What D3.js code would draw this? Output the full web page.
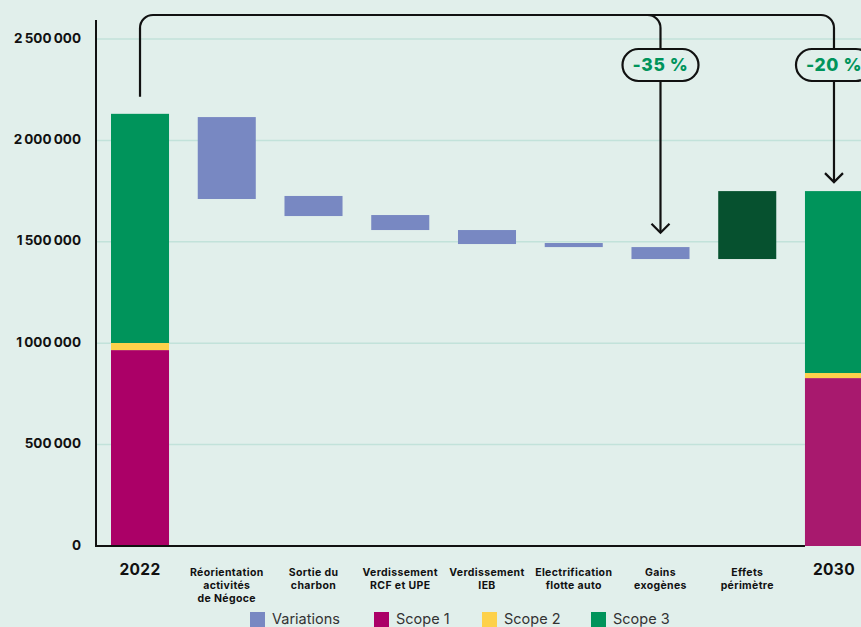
<!DOCTYPE html>
<html>
<head>
<meta charset="utf-8">
<script src="https://cdn.jsdelivr.net/npm/d3@7/dist/d3.min.js"></script>
<style>
  html, body { margin: 0; padding: 0; background: #e1efeb; overflow: hidden; }
  svg { display: block; }
</style>
</head>
<body>
<svg id="chart" width="861" height="627"></svg>
<script>
// --- Data (tCO2e) ---
const categories = ['2022', 'Réorientation activités de Négoce', 'Sortie du charbon',
  'Verdissement RCF et UPE', 'Verdissement IEB', 'Electrification flotte auto',
  'Gains exogènes', 'Effets périmètre', '2030'];
const categoryLines = [['2022'], ['Réorientation', 'activités', 'de Négoce'], ['Sortie du', 'charbon'],
  ['Verdissement', 'RCF et UPE'], ['Verdissement', 'IEB'], ['Electrification', 'flotte auto'],
  ['Gains', 'exogènes'], ['Effets', 'périmètre'], ['2030']];

// stacked totals for the two years
const scopeYears = ['2022', '2030'];
const scope1 = [966000, 828000];
const scope2 = [35000, 25000];
const scope3 = [1130000, 897000];

// floating bars: [low, high]
const variationCats = ['Réorientation activités de Négoce', 'Sortie du charbon',
  'Verdissement RCF et UPE', 'Verdissement IEB', 'Electrification flotte auto', 'Gains exogènes'];
const variationLow  = [1711000, 1627000, 1558000, 1489000, 1474000, 1415000];
const variationHigh = [2115000, 1726000, 1632000, 1558000, 1494000, 1474000];
const perimeterLow = 1415000;
const perimeterHigh = 1750000;

const yTicks = [0, 500000, 1000000, 1500000, 2000000, 2500000];

// annotations: from 2022 to target category
const annoTargets = ['Gains exogènes', '2030'];
const annoLabels = ['-35 %', '-20 %'];

// --- Colours ---
const C = {
  variation: '#7888c2',
  scope1: '#ab0067',
  scope1b: '#a8196e',
  scope2: '#fdd14b',
  scope3: '#00945b',
  perimeter: '#06512f',
  grid: '#c2e2da',
  axis: '#111111',
  pct: '#00945b'
};
const FONT = 'Inter, "Noto Sans", sans-serif';

const svg = d3.select('#chart');
const W = 861, H = 627;

const x = d3.scaleBand().domain(categories).range([111, 863]).paddingInner(0.331).paddingOuter(0);
const y = d3.scaleLinear().domain([0, 2500000]).range([546, 39]);
const fmt = v => d3.format(',')(v).replace(/,/g, '\u202f');

// grid
svg.append('g').selectAll('line').data(yTicks.slice(1)).join('line')
  .attr('x1', 96).attr('x2', W)
  .attr('y1', d => y(d)).attr('y2', d => y(d))
  .attr('stroke', C.grid).attr('stroke-width', 1.5);

// y tick labels
svg.append('g').selectAll('text').data(yTicks).join('text')
  .attr('x', 81).attr('y', d => y(d))
  .attr('text-anchor', 'end').attr('dominant-baseline', 'middle')
  .attr('font-family', FONT).attr('font-weight', 700).attr('font-size', 13.5)
  .attr('fill', '#111')
  .text(d => fmt(d));

// stacked year bars
scopeYears.forEach((yr, i) => {
  const segs = [
    { v0: 0, v1: scope1[i], c: i === 0 ? C.scope1 : C.scope1b },
    { v0: scope1[i], v1: scope1[i] + scope2[i], c: C.scope2 },
    { v0: scope1[i] + scope2[i], v1: scope1[i] + scope2[i] + scope3[i], c: C.scope3 }
  ];
  svg.append('g').selectAll('rect').data(segs).join('rect')
    .attr('x', x(yr)).attr('width', x.bandwidth())
    .attr('y', d => y(d.v1)).attr('height', d => y(d.v0) - y(d.v1))
    .attr('fill', d => d.c);
});

// variation bars
svg.append('g').selectAll('rect').data(variationCats).join('rect')
  .attr('x', d => x(d)).attr('width', x.bandwidth())
  .attr('y', (d, i) => y(variationHigh[i]))
  .attr('height', (d, i) => y(variationLow[i]) - y(variationHigh[i]))
  .attr('fill', C.variation);

svg.append('rect')
  .attr('x', x('Effets périmètre')).attr('width', x.bandwidth())
  .attr('y', y(perimeterHigh)).attr('height', y(perimeterLow) - y(perimeterHigh))
  .attr('fill', C.perimeter);

// axes lines
svg.append('line').attr('x1', 96).attr('x2', 96).attr('y1', 20).attr('y2', 547)
  .attr('stroke', C.axis).attr('stroke-width', 2);
svg.append('line').attr('x1', 95).attr('x2', x('2030')).attr('y1', 546).attr('y2', 546)
  .attr('stroke', C.axis).attr('stroke-width', 2);

// category labels
categoryLines.forEach((lines, i) => {
  const cx = x(categories[i]) + x.bandwidth() / 2;
  const isYear = lines.length === 1;
  const t = svg.append('text')
    .attr('x', cx).attr('text-anchor', 'middle')
    .attr('font-family', FONT).attr('font-weight', 700)
    .attr('font-size', isYear ? 15.5 : 10.5)
    .attr('letter-spacing', isYear ? 0.3 : 0.35)
    .attr('fill', '#111');
  lines.forEach((ln, j) => {
    t.append('tspan').attr('x', cx).attr('y', isYear ? 575 : 576 + j * 13).text(ln);
  });
});

// annotations
const x0 = x('2022') + x.bandwidth() / 2;
const yStart = y(2215000);
const yTop = 15;
const r = 13;
const stroke = C.axis;
const targetsX = annoTargets.map(c => x(c) + x.bandwidth() / 2);
const targetsY = [y(1500000) - 9, y(1750000) - 9];

let p = d3.path();
p.moveTo(x0, yStart);
p.lineTo(x0, yTop + r);
p.arcTo(x0, yTop, x0 + r, yTop, r);
p.lineTo(targetsX[1] - r, yTop);
p.arcTo(targetsX[1], yTop, targetsX[1], yTop + r, r);
p.lineTo(targetsX[1], targetsY[1]);
p.moveTo(targetsX[0] - r, yTop);
p.arcTo(targetsX[0], yTop, targetsX[0], yTop + r, r);
p.lineTo(targetsX[0], targetsY[0]);
svg.append('path').attr('d', p.toString()).attr('fill', 'none')
  .attr('stroke', stroke).attr('stroke-width', 2.2);

// arrow heads
targetsX.forEach((tx, i) => {
  const ty = targetsY[i];
  svg.append('path')
    .attr('d', `M${tx - 9},${ty - 9} L${tx},${ty} L${tx + 9},${ty - 9}`)
    .attr('fill', 'none').attr('stroke', stroke).attr('stroke-width', 2.2);
});

// badges
targetsX.forEach((tx, i) => {
  const bw = 76, bh = 32, by = 49;
  svg.append('rect')
    .attr('x', tx - bw / 2).attr('y', by).attr('width', bw).attr('height', bh)
    .attr('rx', 16).attr('fill', '#e1efeb')
    .attr('stroke', stroke).attr('stroke-width', 2.2);
  svg.append('text')
    .attr('x', tx).attr('y', by + bh / 2 + 1)
    .attr('text-anchor', 'middle').attr('dominant-baseline', 'middle')
    .attr('font-family', FONT).attr('font-weight', 800).attr('font-size', 17.5)
    .attr('letter-spacing', 0.6)
    .attr('fill', C.pct)
    .text(annoLabels[i]);
});

// legend
const legendItems = [
  { label: 'Variations', c: C.variation, x: 250 },
  { label: 'Scope 1', c: C.scope1, x: 374 },
  { label: 'Scope 2', c: C.scope2, x: 482 },
  { label: 'Scope 3', c: C.scope3, x: 591 }
];
const lg = svg.append('g');
legendItems.forEach(d => {
  lg.append('rect').attr('x', d.x).attr('y', 612).attr('width', 15).attr('height', 15).attr('fill', d.c);
  lg.append('text').attr('x', d.x + 22).attr('y', 624)
    .attr('font-family', FONT).attr('font-size', 14.5).attr('fill', '#333')
    .text(d.label);
});
</script>
</body>
</html>
